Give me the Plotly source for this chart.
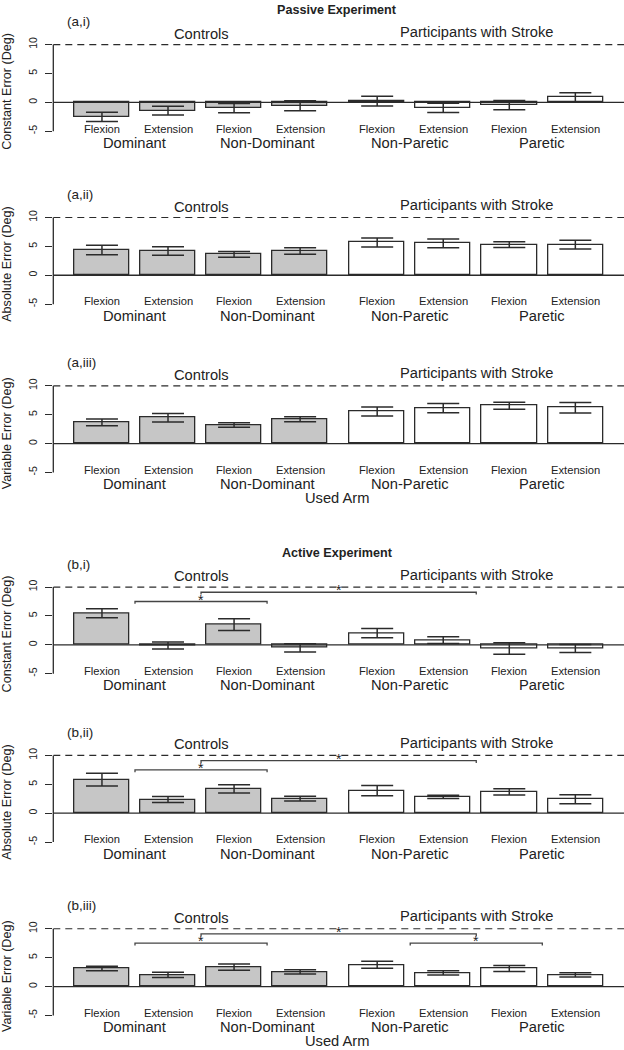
import plotly.graph_objects as go

# ---------------- data ----------------
conditions = ["Flexion", "Extension"] * 4
arm_groups = ["Dominant", "Non-Dominant", "Non-Paretic", "Paretic"]
subject_groups = ["Controls", "Participants with Stroke"]
bar_space = [0.2, 0.2, 0.2, 0.2, 0.4, 0.2, 0.2, 0.2]
is_control = [True, True, True, True, False, False, False, False]

passive_ce = [-2.50, -1.45, -1.00, -0.58, 0.20, -0.95, -0.50, 0.85]
passive_ce_se = [0.80, 0.75, 0.80, 0.87, 0.85, 0.80, 0.80, 0.82]
passive_ae = [4.37, 4.20, 3.62, 4.20, 5.69, 5.52, 5.29, 5.29]
passive_ae_se = [0.83, 0.75, 0.50, 0.55, 0.78, 0.75, 0.50, 0.75]
passive_ve = [3.68, 4.48, 3.22, 4.20, 5.57, 6.15, 6.55, 6.20]
passive_ve_se = [0.60, 0.72, 0.40, 0.43, 0.78, 0.80, 0.60, 0.90]
active_ce = [5.46, -0.10, 3.50, -0.52, 2.01, 0.80, -0.63, -0.63]
active_ce_se = [0.78, 0.60, 1.00, 0.70, 0.80, 0.58, 1.00, 0.70]
active_ae = [5.80, 2.36, 4.20, 2.53, 3.91, 2.82, 3.68, 2.41]
active_ae_se = [1.10, 0.52, 0.72, 0.40, 0.89, 0.28, 0.55, 0.78]
active_ve = [3.12, 2.02, 3.35, 2.54, 3.76, 2.37, 3.12, 2.02]
active_ve_se = [0.40, 0.46, 0.55, 0.38, 0.60, 0.38, 0.52, 0.35]

panel_labels = ["(a,i)", "(a,ii)", "(a,iii)", "(b,i)", "(b,ii)", "(b,iii)"]
y_titles = ["Constant Error (Deg)", "Absolute Error (Deg)", "Variable Error (Deg)"] * 2
y_ticks = [-5, 0, 5, 10]
reference_level = 10
panel_means = [passive_ce, passive_ae, passive_ve, active_ce, active_ae, active_ve]
panel_ses = [passive_ce_se, passive_ae_se, passive_ve_se, active_ce_se, active_ae_se, active_ve_se]
# significance comparisons per panel
comparisons = [[], [], [],
               [("arm", 0, 1), ("subj", 0, 1)],
               [("arm", 0, 1), ("subj", 0, 1)],
               [("arm", 0, 1), ("subj", 0, 1), ("arm", 2, 3)]]

# ---------------- layout geometry ----------------
W, H = 624, 1050
FONT = "Liberation Sans"
TXT = "#222222"
LINE = "#2b2b2b"
Y10_PX = [40.7, 214.3, 383.3, 585.3, 754.3, 928.3]
UNIT = 5.8
YR = [-5.6, 10.6]
X_LEFT_PX = 53.3

# bar centres from R barplot-style spacing
bar_x = []
pos = 0.0
for s in bar_space:
    pos += s
    bar_x.append(pos + 0.5)
    pos += 1.0
xr = [bar_x[0] - 0.5 - 0.04 * (bar_x[-1] - bar_x[0] + 1),
      bar_x[-1] + 0.5 + 0.04 * (bar_x[-1] - bar_x[0] + 1)]
arm_centers = [(bar_x[2 * i] + bar_x[2 * i + 1]) / 2 for i in range(4)]
subj_centers = [(bar_x[0] + bar_x[3]) / 2, (bar_x[4] + bar_x[7]) / 2]


def ypx(i, v):
    return Y10_PX[i] + (10 - v) * UNIT


def pp(px):
    return 1 - px / H


fig = go.Figure()
annotations = []
shapes = []
layout_axes = {}

for i in range(6):
    xa = "x" if i == 0 else f"x{i+1}"
    ya = "y" if i == 0 else f"y{i+1}"
    top_px = ypx(i, YR[1])
    bot_px = ypx(i, YR[0])
    layout_axes["xaxis" if i == 0 else f"xaxis{i+1}"] = dict(
        domain=[X_LEFT_PX / W, 1], range=xr, anchor=ya, showticklabels=False,
        showline=False, showgrid=False, zeroline=False, ticks="")
    layout_axes["yaxis" if i == 0 else f"yaxis{i+1}"] = dict(
        domain=[pp(bot_px), pp(top_px)], range=YR, anchor=xa,
        tickvals=y_ticks, ticktext=[str(t) for t in y_ticks], ticks="outside",
        ticklen=7, tickwidth=1.2, tickcolor=LINE, tickangle=-90,
        ticklabelstandoff=4,
        tickfont=dict(family=FONT, size=10.5, color=TXT),
        showgrid=False, zeroline=False, showline=False)

    fig.add_trace(go.Bar(
        x=bar_x, y=panel_means[i], width=1.0, xaxis=xa, yaxis=ya,
        marker=dict(color=["#c6c6c6" if c else "#ffffff" for c in is_control],
                    line=dict(color=LINE, width=1.3)),
        error_y=dict(type="data", array=panel_ses[i], visible=True,
                     color=LINE, thickness=1.5, width=16),
        showlegend=False, hoverinfo="skip"))

    # y axis line (only from -5 to 10)
    shapes.append(dict(type="line", xref="paper", yref=ya, x0=X_LEFT_PX / W, x1=X_LEFT_PX / W,
                       y0=y_ticks[0], y1=y_ticks[-1], line=dict(color=LINE, width=1.3)))
    # zero line
    shapes.append(dict(type="line", xref=xa, yref=ya, x0=xr[0], x1=xr[1], y0=0, y1=0,
                       line=dict(color=LINE, width=1.3)))
    # dashed reference line
    shapes.append(dict(type="line", xref=xa, yref=ya, x0=xr[0], x1=xr[1],
                       y0=reference_level, y1=reference_level,
                       line=dict(color=LINE, width=1.2, dash="7px,5px")))

    # significance brackets
    for kind, a, b in comparisons[i]:
        centers = arm_centers if kind == "arm" else subj_centers
        level = 9.1 if kind == "subj" else 7.5
        x0, x1 = centers[a], centers[b]
        shapes.append(dict(type="path", xref=xa, yref=ya,
                           path=f"M {x0},{level-0.4} L {x0},{level} L {x1},{level} L {x1},{level-0.4}",
                           line=dict(color="#444444", width=1.3)))
        annotations.append(dict(text="*", xref=xa, yref="paper", x=(x0 + x1) / 2,
                                y=pp(ypx(i, level) - 2.0), showarrow=False,
                                font=dict(family=FONT, size=14, color=TXT),
                                xanchor="center", yanchor="middle"))

    # texts
    annotations.append(dict(text=panel_labels[i], xref="paper", yref="paper",
                            x=65 / W, y=pp(Y10_PX[i] - 23), showarrow=False,
                            xanchor="left", yanchor="middle",
                            font=dict(family=FONT, size=13.5, color=TXT)))
    annotations.append(dict(text=subject_groups[0], xref=xa, yref="paper",
                            x=subj_centers[0], y=pp(Y10_PX[i] - 11), showarrow=False,
                            xanchor="center", yanchor="middle",
                            font=dict(family=FONT, size=14.7, color=TXT)))
    annotations.append(dict(text=subject_groups[1], xref=xa, yref="paper",
                            x=subj_centers[1], y=pp(Y10_PX[i] - 12.5), showarrow=False,
                            xanchor="center", yanchor="middle",
                            font=dict(family=FONT, size=14.7, color=TXT)))
    zero_px = ypx(i, 0)
    for k in range(8):
        annotations.append(dict(text=conditions[k], xref=xa, yref="paper",
                                x=bar_x[k], y=pp(zero_px + 26.3), showarrow=False,
                                xanchor="center", yanchor="middle",
                                font=dict(family=FONT, size=11.2, color=TXT)))
    for k in range(4):
        annotations.append(dict(text=arm_groups[k], xref=xa, yref="paper",
                                x=arm_centers[k], y=pp(zero_px + 40.8), showarrow=False,
                                xanchor="center", yanchor="middle",
                                font=dict(family=FONT, size=14.7, color=TXT)))
    annotations.append(dict(text=y_titles[i], xref="paper", yref="paper",
                            x=7 / W, y=pp((top_px + bot_px) / 2 + 4), showarrow=False,
                            textangle=-90, xanchor="center", yanchor="middle",
                            font=dict(family=FONT, size=12.6, color=TXT)))
    if i in (2, 5):
        annotations.append(dict(text="Used Arm", xref="paper", yref="paper",
                                x=337 / W, y=pp(zero_px + 54.5), showarrow=False,
                                xanchor="center", yanchor="middle",
                                font=dict(family=FONT, size=14.7, color=TXT)))

annotations.append(dict(text="<b>Passive Experiment</b>", xref="paper", yref="paper",
                        x=337 / W, y=pp(6.5), showarrow=False, xanchor="center", yanchor="middle",
                        font=dict(family=FONT, size=12.6, color=TXT)))
annotations.append(dict(text="<b>Active Experiment</b>", xref="paper", yref="paper",
                        x=337 / W, y=pp(550.7), showarrow=False, xanchor="center", yanchor="middle",
                        font=dict(family=FONT, size=12.6, color=TXT)))

fig.update_layout(width=W, height=H, margin=dict(l=0, r=0, t=0, b=0),
                  paper_bgcolor="white", plot_bgcolor="white",
                  annotations=annotations, shapes=shapes, bargap=0, **layout_axes)

fig.write_html("out.html", config={"displayModeBar": False},
               post_script="document.body.style.margin='0';document.body.style.padding='0';"
                           "document.documentElement.style.overflow='hidden';")
